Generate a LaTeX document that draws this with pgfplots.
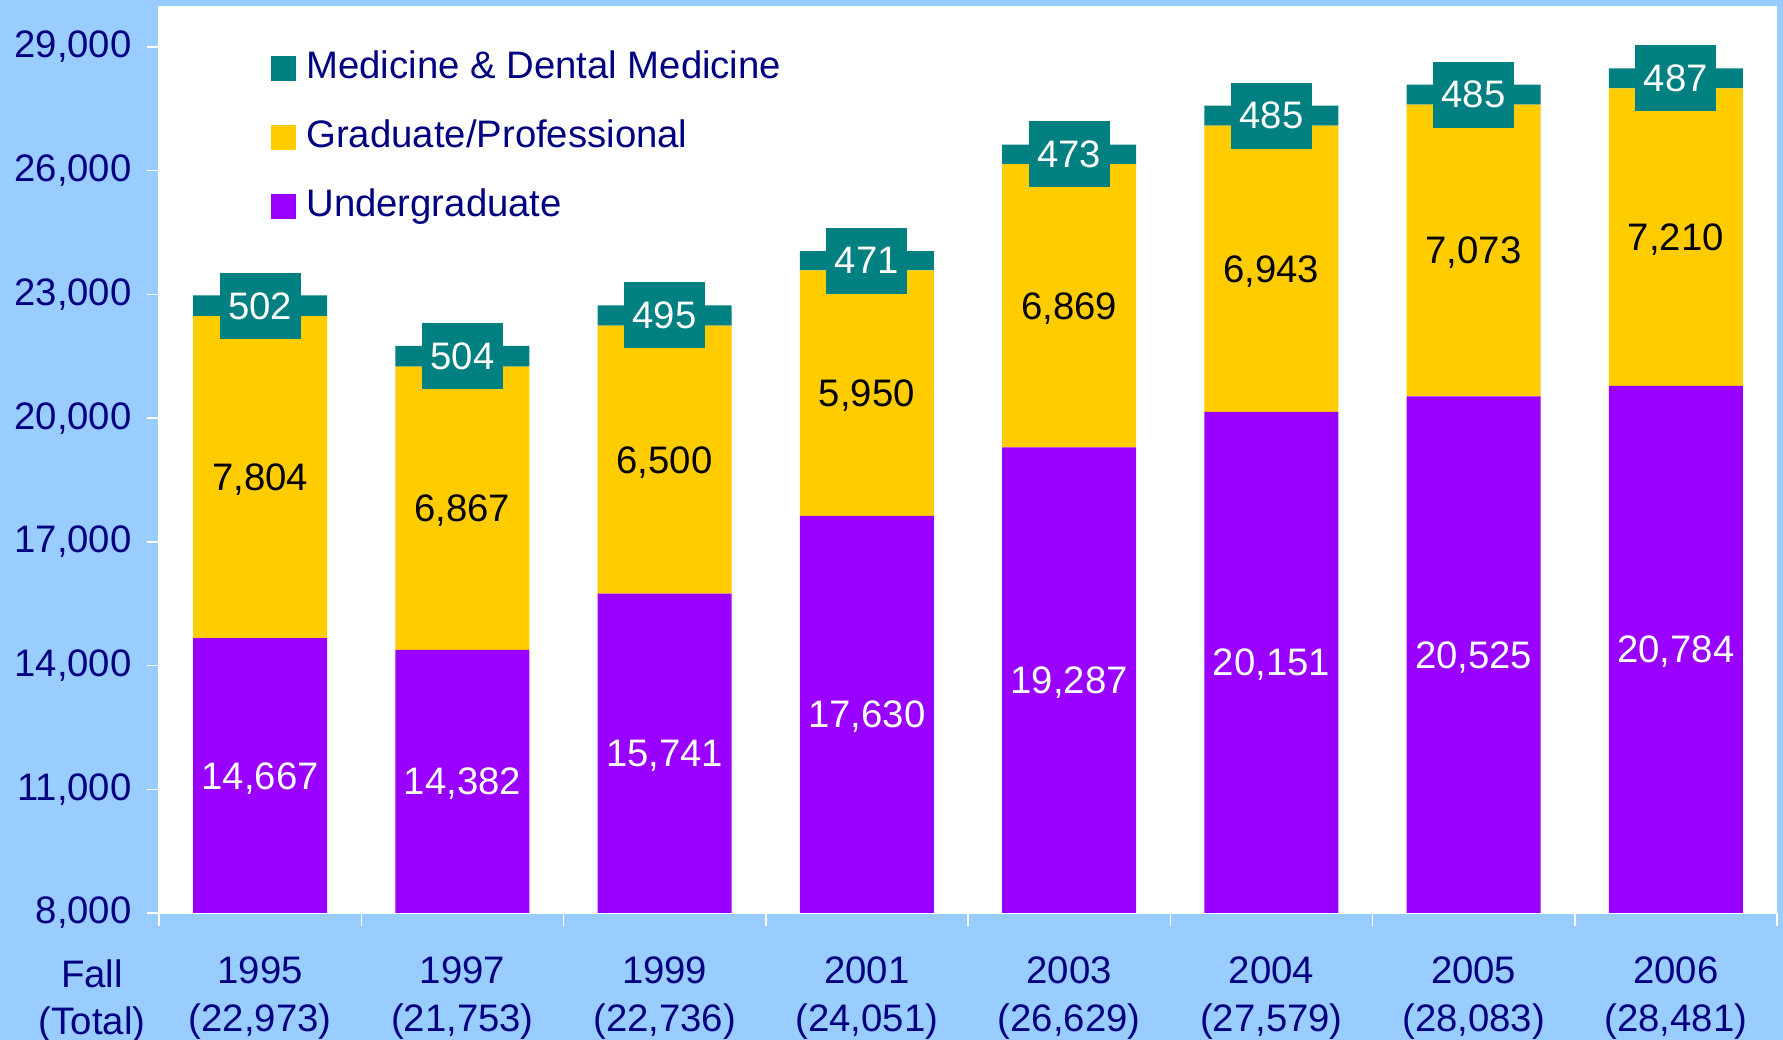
\documentclass[border=0pt]{standalone}
\usepackage{pgfplots}
\pgfplotsset{compat=1.18}
\usepackage{pgfplotstable}
\usepackage{fontspec}
\setmainfont{Liberation Sans}
\definecolor{bgblue}{HTML}{99CCFF}
\definecolor{ugpurple}{HTML}{9900FF}
\definecolor{grgold}{HTML}{FFCC00}
\definecolor{medteal}{HTML}{008080}
\definecolor{navy}{HTML}{000080}
\newcommand\lf{\fontsize{10.9}{13.6}\selectfont}
\pgfplotsset{
  sqlegend/.style={legend image code/.code={\fill[##1,draw=none] (0mm,-1.25mm) rectangle (2.5mm,1.25mm);}},
  geom/.style={
    at={(15.9mm,12.7mm)}, anchor=south west,
    scale only axis, width=161.8mm, height=90.73mm,
    xmin=-0.5, xmax=7.5, ymin=8000, ymax=30000,
    ybar stacked, bar width=13.4mm,
    /pgf/number format/1000 sep={,},
    /pgf/number format/assume math mode=true,
    clip mode=individual,
  },
}

\pgfplotstableread{
x u g m
0 14667 7804 502
1 14382 6867 504
2 15741 6500 495
3 17630 5950 471
4 19287 6869 473
5 20151 6943 485
6 20525 7073 485
7 20784 7210 487
}\enroll

\begin{document}
\begin{tikzpicture}
\fill[bgblue] (0,0) rectangle (178.3mm,104mm);
\useasboundingbox (0,0) rectangle (178.3mm,104mm);
% bars, axes, legend
\begin{axis}[geom,
  axis background/.style={fill=white},
  axis x line*=bottom, axis y line*=left,
  axis line style={white, line width=0.15mm},
  xtick={0,...,7},
  xticklabels={{1995\\(22,973)},{1997\\(21,753)},{1999\\(22,736)},{2001\\(24,051)},{2003\\(26,629)},{2004\\(27,579)},{2005\\(28,083)},{2006\\(28,481)}},
  minor xtick={-0.5,0.5,...,7.5},
  ytick={8000,11000,...,29000},
  tick align=outside,
  major tick length=1.2mm, minor tick length=1.3mm,
  tick style={white, line width=0.15mm},
  major x tick style={draw=none},
  scaled y ticks=false,
  ticklabel style={font=\lf, text=navy},
  yticklabel style={xshift=-0.3mm},
  xticklabel style={align=center, yshift=-1.95mm},
  legend style={at={(0.069,0.951)}, anchor=north west, draw=none, fill=none,
    font=\lf, text=navy, row sep=3.3mm, inner sep=0pt,
    nodes={inner sep=0pt, text height=2.8mm, text depth=0.8mm},
    /tikz/every odd column/.style={column sep=1.0mm}},
  legend cell align=left,
  reverse legend,
]
\addplot[fill=ugpurple, draw=none, sqlegend] table[x=x, y=u]{\enroll};
\addlegendentry{Undergraduate}
\addplot[fill=grgold, draw=none, sqlegend] table[x=x, y=g]{\enroll};
\addlegendentry{Graduate/Professional}
\addplot[fill=medteal, draw=none, sqlegend] table[x=x, y=m]{\enroll};
\addlegendentry{Medicine \& Dental Medicine}
\node[anchor=north, align=center, font=\lf, text=navy, yshift=-3.4mm]
  at (rel axis cs:-0.0414,0) {Fall\\(Total)};
\end{axis}
% value labels, drawn on top
\begin{axis}[geom, hide axis]
\addplot[draw=none, fill=none,
  nodes near coords, point meta=explicit,
  nodes near coords style={anchor=center, text=white, font=\lf, yshift=46.2pt}]
  table[x=x, y=u, meta=u]{\enroll};
\addplot[draw=none, fill=none,
  nodes near coords, point meta=explicit,
  nodes near coords style={anchor=center, text=black, font=\lf, yshift=-0.7pt}]
  table[x=x, y=g, meta=g]{\enroll};
\addplot[draw=none, fill=none,
  nodes near coords, point meta=explicit,
  nodes near coords style={anchor=center, text=white, font=\lf,
    fill=medteal, inner sep=0pt, minimum width=8.1mm, minimum height=6.6mm}]
  table[x=x, y=m, meta=m]{\enroll};
\end{axis}
\end{tikzpicture}
\end{document}
